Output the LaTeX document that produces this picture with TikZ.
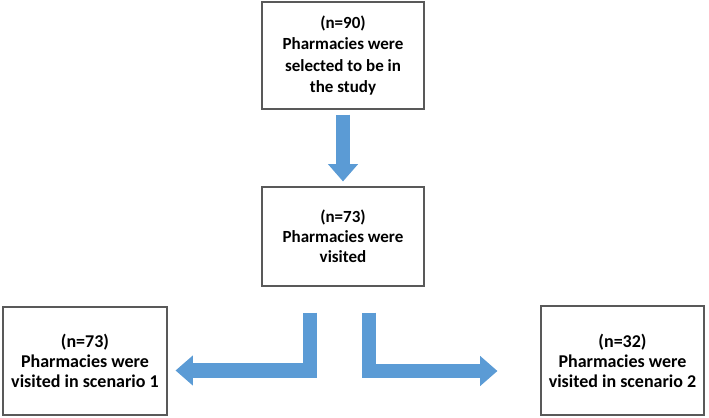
\documentclass[tikz,border=0pt]{standalone}
\usepackage{fontspec}
\setmainfont{Carlito}
\usetikzlibrary{arrows.meta}
\definecolor{arrowblue}{RGB}{91,155,213}
\begin{document}
\begin{tikzpicture}[x=0.75pt,y=-0.75pt,
    box/.style={draw=black!65, line width=0.8pt, align=center, inner sep=0pt,
        font=\bfseries\fontsize{12.75}{16}\selectfont},
    lowbox/.style={box, font=\bfseries\fontsize{13.5}{15}\selectfont},
    blockarrow/.style={draw=arrowblue, line width=11pt, line join=miter,
        -{Triangle[width=21.75pt,length=13pt]}}]
        \useasboundingbox (0,0) rectangle (709,417);

        \node[box, minimum width=121.5pt, minimum height=80.25pt] (selected) at (343,55.5)
            {(n=90)\\Pharmacies were\\selected to be in\\the study};
        \node[box, minimum width=121.5pt, minimum height=74.25pt,
            font=\bfseries\fontsize{12.75}{15}\selectfont] (visited) at (343,236.5)
            {(n=73)\\Pharmacies were\\visited};
        \node[lowbox, minimum width=123pt, minimum height=81pt] (scenA) at (85,361)
            {(n=73)\\Pharmacies were\\visited in scenario 1};
        \node[lowbox, minimum width=122.25pt, minimum height=81.75pt] (scenB) at (622.5,360.5)
            {(n=32)\\Pharmacies were\\visited in scenario 2};

        \draw[blockarrow, shorten <=3.75pt, shorten >=3.75pt] (selected) -- (visited);
        \draw[blockarrow] ([shift={(-33,26)}]visited.south) |- ([shift={(8,9.5)}]scenA.east);
        \draw[blockarrow] ([shift={(26,26)}]visited.south) |- ([shift={(-43,10.5)}]scenB.west);
    \end{tikzpicture}
\end{document}
